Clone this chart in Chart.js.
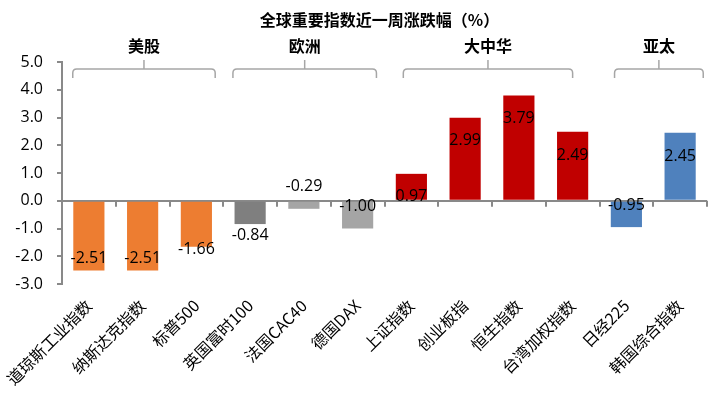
<!DOCTYPE html>
<html>
<head>
<meta charset="utf-8">
<script src="https://cdn.jsdelivr.net/npm/chart.js@4/dist/chart.umd.min.js"></script>
<style>
html,body{margin:0;padding:0;background:#fff;}
#wrap{width:722px;height:398px;}
</style>
</head>
<body>
<div id="wrap"><canvas id="c" width="722" height="398"></canvas></div>
<script>
const title = '全球重要指数近一周涨跌幅（%）';
const categories = ['道琼斯工业指数','纳斯达克指数','标普500','英国富时100','法国CAC40','德国DAX','上证指数','创业板指','恒生指数','台湾加权指数','日经225','韩国综合指数'];
const values = [-2.51,-2.51,-1.66,-0.84,-0.29,-1.00,0.97,2.99,3.79,2.49,-0.95,2.45];
const groupNames = ['美股','欧洲','大中华','亚太'];
const groupFirst = [0,3,6,10];
const groupLast = [2,5,9,11];
const yTicks = [-3,-2,-1,0,1,2,3,4,5];

// style
const FONT = "'Open Sans','Noto Sans CJK SC',sans-serif";
const CJK = "'Noto Sans CJK SC','Open Sans',sans-serif";
const barColors = ['#ED7D31','#ED7D31','#ED7D31','#7F7F7F','#A5A5A5','#A5A5A5','#C00000','#C00000','#C00000','#C00000','#4F81BD','#4F81BD'];
const labelShift = [-12,-12,3,11,-22,-22,23,23,23,24,-22,24];
const bracketPad = [[-0.30,0.35],[-0.32,0.35],[-0.15,0.0],[-0.22,0.43]];
const AXIS = '#898989';

const decor = {
  id:'decor',
  afterDatasetsDraw(chart){
    const {ctx, chartArea, scales} = chart;
    const x = scales.x, y = scales.y;
    const y0 = y.getPixelForValue(0);
    ctx.save();
    ctx.strokeStyle = AXIS; ctx.lineWidth = 2;
    const n = categories.length;
    const step = (chartArea.right - chartArea.left)/n;
    for(let i=1;i<=n;i++){
      const px = Math.round(chartArea.left + i*step);
      ctx.beginPath(); ctx.moveTo(px, y0); ctx.lineTo(px, y0+6); ctx.stroke();
    }
    const meta = chart.getDatasetMeta(0);
    ctx.fillStyle = '#000';
    ctx.font = '16px ' + FONT;
    ctx.textAlign = 'center'; ctx.textBaseline = 'middle';
    meta.data.forEach((bar,i)=>{
      ctx.fillText(values[i].toFixed(2), bar.x, bar.y + labelShift[i]);
    });
    ctx.font = 'bold 16px ' + CJK;
    ctx.fillText(title, (chartArea.left+chartArea.right)/2 - 5, 20);
    ctx.strokeStyle = '#A6A6A6'; ctx.lineWidth = 1.5;
    groupNames.forEach((g,k)=>{
      const l = x.getPixelForValue(groupFirst[k]) + bracketPad[k][0]*step;
      const r = x.getPixelForValue(groupLast[k]) + bracketPad[k][1]*step;
      const m = (l+r)/2;
      const top = 69, bot = 78, nub = 60, rad = 4;
      ctx.beginPath();
      ctx.moveTo(l, bot);
      ctx.lineTo(l, top+rad);
      ctx.quadraticCurveTo(l, top, l+rad, top);
      ctx.lineTo(r-rad, top);
      ctx.quadraticCurveTo(r, top, r, top+rad);
      ctx.lineTo(r, bot);
      ctx.stroke();
      ctx.beginPath(); ctx.moveTo(m, top); ctx.lineTo(m, nub); ctx.stroke();
      ctx.fillStyle = '#000';
      ctx.font = 'bold 16px ' + CJK;
      ctx.fillText(g, m, 46);
    });
    ctx.restore();
  }
};

new Chart(document.getElementById('c'), {
  type:'bar',
  data:{
    labels: categories,
    datasets:[{
      data: values,
      backgroundColor: barColors,
      borderWidth: 0,
      categoryPercentage: 1,
      barPercentage: 0.58
    }]
  },
  options:{
    responsive:false,
    animation:false,
    layout:{padding:{top:62,right:15,left:0,bottom:0}},
    plugins:{legend:{display:false}, tooltip:{enabled:false}, title:{display:false}},
    scales:{
      x:{
        grid:{display:false},
        border:{display:false},
        ticks:{
          color:'#000',
          font:{family:CJK,size:16},
          minRotation:45, maxRotation:45,
          autoSkip:false,
          padding:4
        },
        afterFit(s){ s.height = 114; }
      },
      y:{
        min:-3, max:5,
        afterBuildTicks(s){ s.ticks = yTicks.map(v=>({value:v})); },
        grid:{
          color: c => (c.tick && c.tick.value === 0) ? AXIS : 'rgba(0,0,0,0)',
          tickColor: AXIS,
          tickLength: 5,
          lineWidth: 2,
          drawOnChartArea: true
        },
        border:{display:true,color:AXIS,width:2},
        ticks:{
          color:'#000',
          font:{family:FONT,size:16},
          padding:14,
          callback: v => Number(v).toFixed(1)
        },
        afterFit(s){ s.width = 62; }
      }
    }
  },
  plugins:[decor]
});
</script>
</body>
</html>
